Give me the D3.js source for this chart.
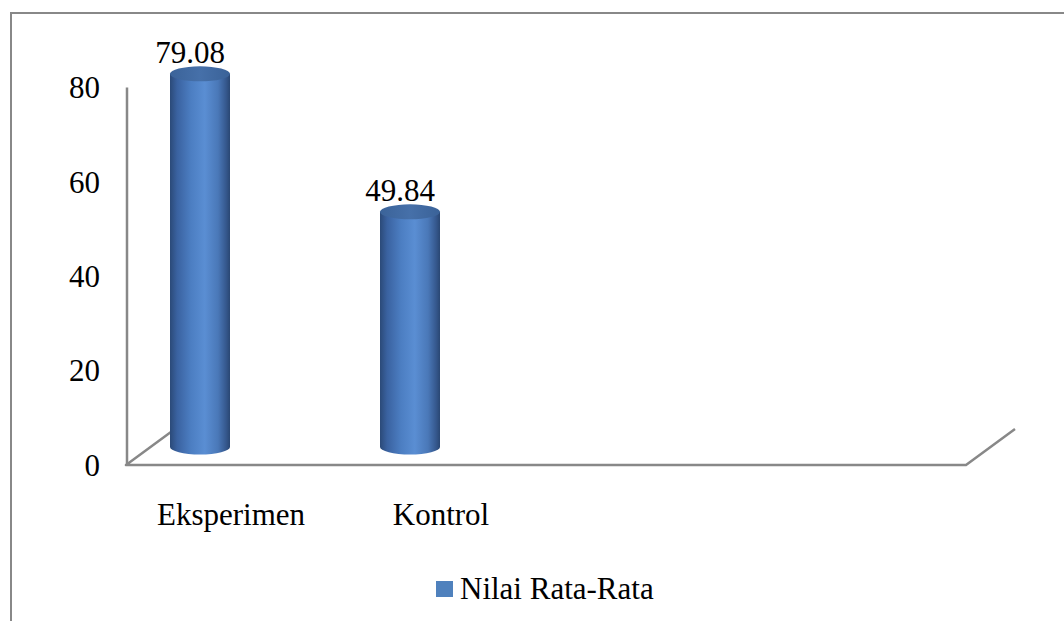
<!DOCTYPE html>
<html>
<head>
<meta charset="utf-8">
<script src="https://cdn.jsdelivr.net/npm/d3@7"></script>
<style>
  html, body { margin: 0; padding: 0; background: #ffffff; }
  svg { display: block; }
  text { font-family: "Liberation Serif", "Times New Roman", serif; fill: #000; }
</style>
</head>
<body>
<script>
// Mean scores per group (two empty slots keep the category axis width)
const categories = ["Eksperimen", "Kontrol", "", ""];
const values = [79.08, 49.84, null, null];
const valueLabels = ["79.08", "49.84", null, null];
const yTicks = [0, 20, 40, 60, 80];
const seriesName = "Nilai Rata-Rata";

const W = 1064, H = 621;
const svg = d3.select("body").append("svg").attr("width", W).attr("height", H);

const gray = "#888888";
const fontSize = 31;

// Chart frame (only the top and left edges fall inside the view)
svg.append("path")
  .attr("d", `M11,${H + 5} L11,13 L${W + 5},13`)
  .attr("fill", "none").attr("stroke", gray).attr("stroke-width", 2);

// Plot geometry: front floor edge and depth offset of the back wall
const frontY = 465;
const depth = { dx: 49, dy: -36 };
const x = d3.scaleBand().domain(categories.map((c, i) => i)).range([126, 966]).paddingInner(0).paddingOuter(0);
const y = d3.scaleLinear().domain([0, 80]).range([frontY, 87.5]);
const h = d3.scaleLinear().domain([0, 80]).range([0, frontY - 87.5]);

// Floor outline
svg.append("path")
  .attr("d", `M${x.range ? 126 + depth.dx : 0},${frontY + depth.dy} L126,${frontY} L966,${frontY} L${966 + depth.dx},${frontY + depth.dy}`)
  .attr("fill", "none").attr("stroke", gray).attr("stroke-width", 2.5).attr("stroke-linejoin", "round");

// Vertical axis line
svg.append("line")
  .attr("x1", 127).attr("x2", 127).attr("y1", y(80)).attr("y2", frontY)
  .attr("stroke", gray).attr("stroke-width", 2.5);

// Y tick labels
svg.selectAll("text.ytick").data(yTicks).enter().append("text")
  .attr("class", "ytick")
  .attr("x", 100).attr("y", d => y(d))
  .attr("dy", "0.35em")
  .attr("text-anchor", "end")
  .attr("font-size", fontSize)
  .text(d => d);

// Cylinder shading
const defs = svg.append("defs");
const grad = defs.append("linearGradient").attr("id", "cyl").attr("x1", 0).attr("x2", 1).attr("y1", 0).attr("y2", 0);
[[0, "#2b4a78"], [0.12, "#3a62a0"], [0.35, "#4c7ec2"], [0.58, "#5a8ed3"], [0.8, "#4a78b8"], [0.93, "#36598f"], [1, "#2a4773"]]
  .forEach(([o, c]) => grad.append("stop").attr("offset", o).attr("stop-color", c));
const topGrad = defs.append("linearGradient").attr("id", "cylTop").attr("x1", 0).attr("x2", 1).attr("y1", 0).attr("y2", 0);
[[0, "#3b6399"], [0.5, "#4670a9"], [1, "#3a6298"]]
  .forEach(([o, c]) => topGrad.append("stop").attr("offset", o).attr("stop-color", c));

// Bars sit at mid-depth of the floor
const barW = 60, rx = barW / 2, ry = 7.5;
const baseY = frontY + depth.dy / 2;
const barData = categories.map((c, i) => ({ i, c, v: values[i], label: valueLabels[i] })).filter(d => d.v != null);

const bars = svg.selectAll("g.bar").data(barData).enter().append("g").attr("class", "bar");
bars.each(function (d) {
  const g = d3.select(this);
  const cx = x(d.i) + 74;
  const left = cx - rx, right = cx + rx;
  const topY = baseY - h(d.v);
  g.append("path")
    .attr("d", `M${left},${topY} L${left},${baseY} A${rx},${ry} 0 0 0 ${right},${baseY} L${right},${topY} Z`)
    .attr("fill", "url(#cyl)");
  g.append("ellipse")
    .attr("cx", cx).attr("cy", topY).attr("rx", rx).attr("ry", ry)
    .attr("fill", "url(#cylTop)");
  g.append("text")
    .attr("x", cx - 10).attr("y", topY - 11)
    .attr("text-anchor", "middle")
    .attr("font-size", fontSize)
    .text(d.label);
});

// Category labels
svg.selectAll("text.xcat").data(categories.map((c, i) => ({ c, i })).filter(d => d.c)).enter().append("text")
  .attr("class", "xcat")
  .attr("x", d => x(d.i) + x.bandwidth() / 2)
  .attr("y", 525)
  .attr("text-anchor", "middle")
  .attr("font-size", fontSize)
  .text(d => d.c);

// Legend
const legend = svg.append("g");
legend.append("rect").attr("x", 436).attr("y", 581).attr("width", 17).attr("height", 16).attr("fill", "#4f81bd");
legend.append("text").attr("x", 460).attr("y", 599).attr("font-size", fontSize).text(seriesName);
</script>
</body>
</html>
